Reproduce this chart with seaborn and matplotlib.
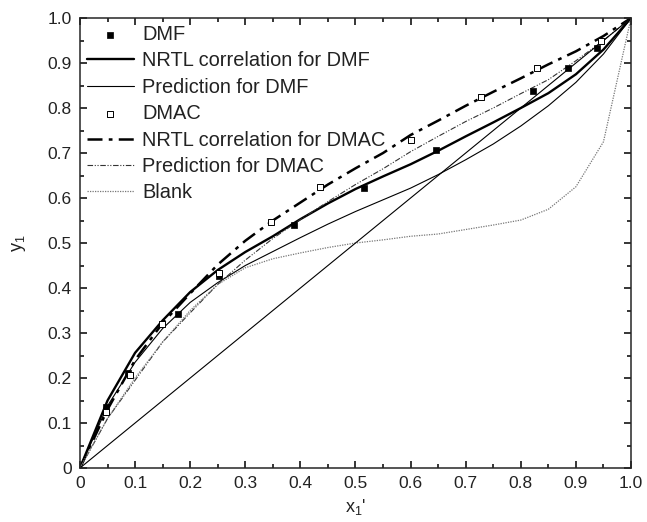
import matplotlib
matplotlib.use("Agg")
import matplotlib.pyplot as plt
import seaborn as sns

# --------------------
# Data
# --------------------

dmf_x = [0.048, 0.088, 0.178, 0.253, 0.389, 0.516, 0.646, 0.823, 0.886, 0.939]
dmf_y = [0.135, 0.212, 0.342, 0.427, 0.541, 0.623, 0.706, 0.838, 0.888, 0.934]

dmac_x = [0.048, 0.091, 0.148, 0.253, 0.346, 0.435, 0.601, 0.728, 0.829, 0.946]
dmac_y = [0.125, 0.207, 0.321, 0.434, 0.547, 0.625, 0.729, 0.825, 0.890, 0.950]

curve_x = [0, 0.05, 0.1, 0.15, 0.2, 0.25, 0.3, 0.35, 0.4, 0.45, 0.5, 0.55,
           0.6, 0.65, 0.7, 0.75, 0.8, 0.85, 0.9, 0.95, 1.0]

nrtl_dmf = [0, 0.150, 0.256, 0.328, 0.391, 0.440, 0.480, 0.515, 0.553, 0.588,
            0.620, 0.648, 0.675, 0.705, 0.737, 0.768, 0.800, 0.833, 0.875, 0.930, 1.0]
pred_dmf = [0, 0.138, 0.235, 0.310, 0.368, 0.412, 0.450, 0.481, 0.512, 0.542,
            0.570, 0.596, 0.622, 0.652, 0.685, 0.720, 0.760, 0.805, 0.857, 0.920, 1.0]
nrtl_dmac = [0, 0.130, 0.240, 0.322, 0.388, 0.452, 0.505, 0.550, 0.590, 0.630,
             0.666, 0.700, 0.740, 0.772, 0.805, 0.836, 0.866, 0.897, 0.926, 0.960, 1.0]
pred_dmac = [0, 0.110, 0.195, 0.280, 0.345, 0.408, 0.462, 0.510, 0.552, 0.592,
             0.630, 0.665, 0.703, 0.737, 0.770, 0.800, 0.832, 0.863, 0.905, 0.950, 1.0]

blank_x = [0, 0.05, 0.1, 0.15, 0.2, 0.25, 0.3, 0.35, 0.4, 0.45, 0.5, 0.55,
           0.6, 0.65, 0.7, 0.75, 0.8, 0.85, 0.9, 0.95, 1.0]
blank_y = [0, 0.110, 0.200, 0.280, 0.350, 0.408, 0.445, 0.465, 0.478, 0.490,
           0.500, 0.507, 0.515, 0.520, 0.530, 0.540, 0.551, 0.575, 0.625, 0.725, 1.0]

diag_x = [0, 1.0]
diag_y = [0, 1.0]

ticks = [0, 0.1, 0.2, 0.3, 0.4, 0.5, 0.6, 0.7, 0.8, 0.9, 1.0]
tick_labels = ['0', '0.1', '0.2', '0.3', '0.4', '0.5', '0.6', '0.7', '0.8', '0.9', '1.0']

# --------------------
# Style
# --------------------

sns.set_style("ticks")
plt.rcParams['font.family'] = ['Liberation Sans', 'DejaVu Sans']
plt.rcParams['mathtext.default'] = 'regular'
plt.rcParams['axes.linewidth'] = 1.1

fig = plt.figure(figsize=(6.47, 5.22), dpi=100)
ax = fig.add_axes([0.1236, 0.1034, 0.8517, 0.8621])

# --------------------
# Plot
# --------------------

sns.scatterplot(x=dmf_x, y=dmf_y, ax=ax, marker='s', s=20, color='black',
                edgecolor='black', linewidth=0.5, label='DMF', zorder=5)
sns.lineplot(x=curve_x, y=nrtl_dmf, ax=ax, color='black', linewidth=1.7,
             label='NRTL correlation for DMF', estimator=None)
sns.lineplot(x=curve_x, y=pred_dmf, ax=ax, color='black', linewidth=0.8,
             label='Prediction for DMF', estimator=None)
sns.scatterplot(x=dmac_x, y=dmac_y, ax=ax, marker='s', s=20, facecolor='white',
                edgecolor='black', linewidth=0.7, label='DMAC', zorder=5)
sns.lineplot(x=curve_x, y=nrtl_dmac, ax=ax, color='black', linewidth=1.8,
             label='NRTL correlation for DMAC', estimator=None)
ax.lines[-1].set_dashes((6, 2.5, 1.5, 2.5))
sns.lineplot(x=curve_x, y=pred_dmac, ax=ax, color='#333333', linewidth=0.8,
             label='Prediction for DMAC', estimator=None)
ax.lines[-1].set_dashes((5, 1.5, 1, 1.5, 1, 1.5))
sns.lineplot(x=blank_x, y=blank_y, ax=ax, color='#777777', linewidth=0.9,
             label='Blank', estimator=None)
ax.lines[-1].set_dashes((1, 1))
sns.lineplot(x=diag_x, y=diag_y, ax=ax, color='black', linewidth=0.8,
             estimator=None)

ax.set_xlim(0, 1.0)
ax.set_ylim(0, 1.0)
ax.set_xticks(ticks)
ax.set_xticklabels(tick_labels)
ax.set_yticks(ticks)
ax.set_yticklabels(tick_labels)
ax.set_xticks([0.05 + 0.1 * i for i in range(10)], minor=True)
ax.set_yticks([0.05 + 0.1 * i for i in range(10)], minor=True)
ax.tick_params(which='both', direction='in', top=True, right=True,
               width=1.1, colors='black', labelcolor='#222222')
ax.tick_params(which='major', length=5, labelsize=12.5, pad=6)
ax.tick_params(which='minor', length=3)

ax.set_xlabel("x$_1$'", fontsize=13, color='#222222', labelpad=4)
ax.set_ylabel("y$_1$", fontsize=13, color='#222222', labelpad=14)

leg = ax.legend(loc='upper left', frameon=False, fontsize=14.4,
                borderaxespad=0.15, borderpad=0.2, handlelength=2.35,
                handletextpad=0.4, labelspacing=0.37)
for t in leg.get_texts():
    t.set_color('#222222')

fig.savefig('out.png', dpi=100)
